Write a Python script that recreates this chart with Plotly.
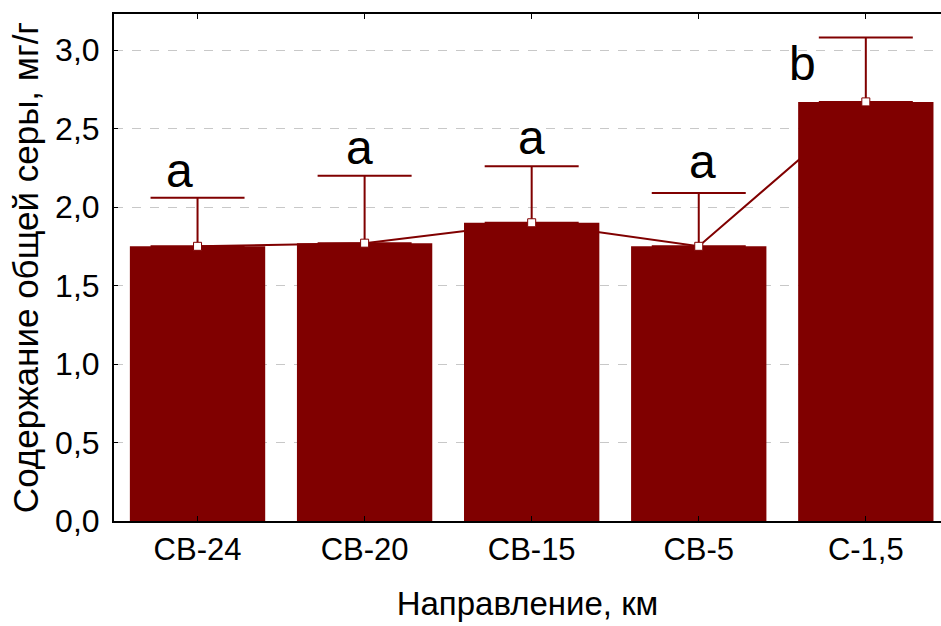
import plotly.graph_objects as go

categories = ["СВ-24", "СВ-20", "СВ-15", "СВ-5", "С-1,5"]
means = [1.75, 1.77, 1.90, 1.75, 2.67]
upper = [2.06, 2.20, 2.26, 2.09, 3.08]
letters = ["a", "a", "a", "a", "b"]
letter_x = [-0.11, 0.97, 2.0, 3.02, 3.62]
letter_y = [2.05, 2.20, 2.26, 2.11, 2.73]

y_ticks = [0.0, 0.5, 1.0, 1.5, 2.0, 2.5, 3.0]
y_ticktext = ["0,0", "0,5", "1,0", "1,5", "2,0", "2,5", "3,0"]

col = "#800000"
xi = list(range(len(categories)))

fig = go.Figure()
fig.add_trace(go.Bar(x=xi, y=means, width=0.81, marker=dict(color=col, line=dict(width=0)),
                     showlegend=False))
fig.add_trace(go.Scatter(
    x=xi, y=means, mode="lines+markers",
    line=dict(color=col, width=2),
    marker=dict(symbol="square", size=8, color="white", line=dict(color=col, width=1)),
    error_y=dict(type="data", symmetric=False,
                 array=[u - m for u, m in zip(upper, means)],
                 arrayminus=[0] * len(means),
                 color=col, thickness=2, width=47),
    showlegend=False))

for lx, ly, t in zip(letter_x, letter_y, letters):
    fig.add_annotation(x=lx, y=ly, text=t, showarrow=False, yanchor="bottom",
                       xanchor="center", font=dict(size=48, color="black",
                                                   family="Liberation Sans, Arial"))

fig.update_layout(
    width=941, height=626,
    margin=dict(l=114, r=0, t=14, b=105),
    paper_bgcolor="white", plot_bgcolor="white",
    font=dict(family="Liberation Sans, Arial", color="black"),
)
fig.update_xaxes(
    range=[-0.5, 4.45], tickmode="array", tickvals=xi, ticktext=categories,
    tickfont=dict(size=31), showline=True, linecolor="black", linewidth=2,
    mirror="ticks", ticks="inside", ticklen=5, tickcolor="black", showgrid=False,
    zeroline=False,
    title=dict(text="Направление, км", font=dict(size=33), standoff=26),
)
fig.update_yaxes(
    range=[0, 3.23], tickmode="array", tickvals=y_ticks, ticktext=y_ticktext,
    tickfont=dict(size=32), showline=True, linecolor="black", linewidth=2,
    mirror=False, ticks="inside", ticklen=4, tickcolor="black",
    ticklabelstandoff=6,
    showgrid=True, gridcolor="#c8c8c8", griddash="dash", gridwidth=1,
    zeroline=False,
    title=dict(text="Содержание общей серы, мг/г", font=dict(size=35), standoff=6),
)

fig.write_html("out.html")
